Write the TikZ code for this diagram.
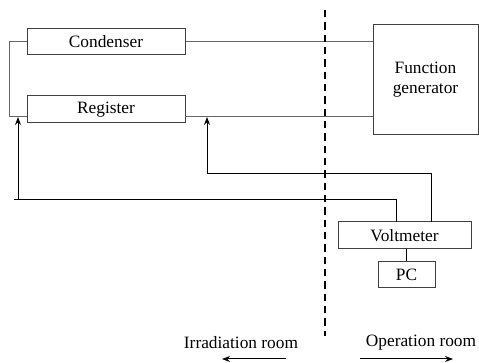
\documentclass[tikz,border=0pt]{standalone}
\usepackage{fontspec}
\setmainfont{Liberation Serif}
\usetikzlibrary{arrows.meta}

\tikzset{
  box/.style={draw=black!75, line width=0.75, inner sep=0.75pt, align=center, font=\fontsize{13}{15}\selectfont},
  wire/.style={draw=black!60, line width=0.75},
  feed/.style={draw=black, line width=0.75},
  tip/.style={-{Stealth[length=6pt,width=4.5pt]}},
}

\begin{document}
\begin{tikzpicture}[x=0.75pt,y=0.75pt,yscale=-1,xscale=1]
        \useasboundingbox (0,0) rectangle (479,363);
        % instruments
        \node [box, minimum width=118.5pt, minimum height=19.5pt] (cond) at (106,42) {Condenser};
        \node [box, minimum width=118.5pt, minimum height=20.25pt] (reg) at (106,109.5) {Register};
        \node [box, minimum width=78.75pt, minimum height=82.5pt] (fg) at (425.5,80) {Function\\generator};
        \node [box, minimum width=99.75pt, minimum height=20.25pt] (volt) at (404.5,235.5) {Voltmeter};
        \node [box, minimum width=42.75pt, minimum height=19.5pt] (pc) at (406.5,275) {PC};

        % wire points
        \coordinate (regR) at (185,117);
        \coordinate (regL) at (27,117);
        \coordinate (loopT) at (9.5,42);
        \coordinate (loopB) at (9.5,117);
        \coordinate (vA) at (396,222);
        \coordinate (vB) at (431,222);
        \coordinate (tipA) at (18,117);
        \coordinate (tipB) at (207,117);
        \coordinate (stub) at (14,200);

        \draw [wire] (cond.east) -- (cond.east -| fg.west);
        \draw [wire] (regR) -- (regR -| fg.west);
        \draw [wire] (cond.west) -- (loopT) -- (loopB) -- (regL);
        \draw [feed] (pc.north) -- (pc.north |- volt.south);

        \draw [feed] (vA) |- (stub);
        \draw [feed, tip] (tipA |- stub) -- (tipA);
        \draw [feed, tip] (vB) |- (207,174) -- (tipB);

        % room border
        \draw [line width=2pt, dash pattern=on 5.5pt off 3.75pt] (325,10) -- (325,336);

        \node [font=\fontsize{13}{15}\selectfont] (irr) at (241,343) {Irradiation room};
        \node [font=\fontsize{13}{15}\selectfont] (ope) at (421,343) {Operation room};
        \coordinate (irrA) at (286,359);
        \coordinate (irrB) at (222,359);
        \coordinate (opeA) at (360,359);
        \coordinate (opeB) at (453,359);
        \draw [feed, tip] (irrA) -- (irrB);
        \draw [feed, tip] (opeA) -- (opeB);
\end{tikzpicture}
\end{document}
